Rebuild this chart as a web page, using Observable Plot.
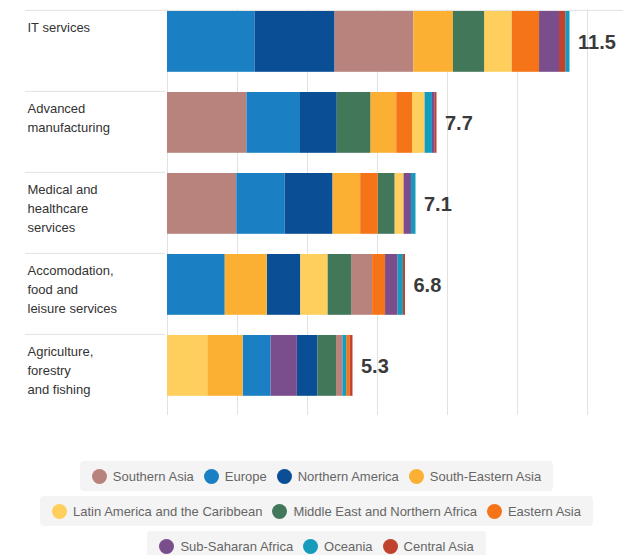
<!DOCTYPE html>
<html>
<head>
<meta charset="utf-8">
<script src="https://cdn.jsdelivr.net/npm/d3@7"></script>
<script src="https://cdn.jsdelivr.net/npm/@observablehq/plot@0.6"></script>
<style>
  html, body { margin: 0; padding: 0; background: #fff; }
  body { width: 633px; font-family: "Liberation Sans", Arial, Helvetica, sans-serif; }
  #legend { margin-top: 31px; display: flex; flex-direction: column; align-items: center; }
  .row { display: flex; align-items: center; height: 30px; margin-bottom: 5px; padding: 0 7px; background: #f4f4f4; border-radius: 4px; }
  .item { display: flex; align-items: center; margin: 0 5px; font-size: 13px; color: #666; white-space: nowrap; }
  .sw { width: 15px; height: 15px; border-radius: 50%; margin-right: 6px; }
</style>
</head>
<body>
<div id="chart"></div>
<div id="legend"></div>
<script>
const sectors = ["IT services", "Advanced manufacturing", "Medical and healthcare services", "Accomodation, food and leisure services", "Agriculture, forestry and fishing"];
const sectorLabels = ["IT services", "Advanced\nmanufacturing", "Medical and\nhealthcare\nservices", "Accomodation,\nfood and\nleisure services", "Agriculture,\nforestry\nand fishing"];
const totals = [11.5, 7.7, 7.1, 6.8, 5.3];
const gridTicks = [0, 2, 4, 6, 8, 10, 12];

const regions = ["Southern Asia", "Europe", "Northern America", "South-Eastern Asia", "Latin America and the Caribbean", "Middle East and Northern Africa", "Eastern Asia", "Sub-Saharan Africa", "Oceania", "Central Asia"];
const regionColors = ["#b8837c", "#1a80c3", "#0a4e96", "#fbb033", "#fecf5c", "#42775a", "#f57417", "#7a4e8c", "#179bbd", "#c0432e"];

// values per region, in the order of sectors
const southernAsia    = [2.26, 2.27, 1.98, 0.60, 0.18];
const europe          = [2.50, 1.53, 1.38, 1.65, 0.80];
const northernAmerica = [2.28, 1.05, 1.37, 0.96, 0.59];
const southEastAsia   = [1.13, 0.74, 0.79, 1.20, 1.01];
const latinAmerica    = [0.79, 0.36, 0.26, 0.78, 1.15];
const mena            = [0.89, 0.96, 0.48, 0.67, 0.53];
const easternAsia     = [0.78, 0.45, 0.50, 0.37, 0.10];
const subSaharan      = [0.57, 0.08, 0.21, 0.36, 0.75];
const oceania         = [0.12, 0.21, 0.13, 0.15, 0.11];
const centralAsia     = [0.18, 0.05, 0.00, 0.06, 0.08];

const series = [southernAsia, europe, northernAmerica, southEastAsia, latinAmerica, mena, easternAsia, subSaharan, oceania, centralAsia];

const data = regions.flatMap((region, j) =>
  sectors.map((sector, i) => ({sector, region, value: series[j][i]}))
);

const W = 633, H = 430, mt = 9, mb = 15, ml = 167, mr = 46;
const step = (H - mt - mb) / sectors.length;
const barH = 61;

const chart = Plot.plot({
  width: W,
  height: H,
  marginTop: mt,
  marginBottom: mb,
  marginLeft: ml,
  marginRight: mr,
  style: {background: "#fff", fontFamily: "'Liberation Sans', Arial, Helvetica, sans-serif"},
  x: {domain: [0, 12], axis: null},
  y: {domain: sectors, axis: null, padding: 0},
  color: {domain: regions, range: regionColors},
  marks: [
    Plot.ruleX(gridTicks, {stroke: "#e2e2e2", strokeWidth: 1}),
    Plot.ruleY([sectors[0]], {dy: -step / 2, insetLeft: -(ml - 25), insetRight: -36, stroke: "#e2e2e2"}),
    Plot.ruleY(sectors.slice(1), {dy: -step / 2, insetLeft: -(ml - 25), insetRight: (W - mr) - 165, stroke: "#e2e2e2"}),
    Plot.barX(data, Plot.stackX({
      y: "sector", x: "value", fill: "region",
      order: "value", reverse: true,
      insetTop: 1, insetBottom: step - 1 - barH
    })),
    Plot.text(sectors, {
      y: d => d, text: (d, i) => sectorLabels[i],
      frameAnchor: "left", dx: -(ml - 27), textAnchor: "start",
      lineAnchor: "top", dy: -32, fontSize: 13, lineHeight: 1.45, fill: "#333"
    }),
    Plot.text(sectors, {
      x: (d, i) => totals[i], y: d => d, text: (d, i) => totals[i].toFixed(1),
      dx: 8, dy: -8.5, textAnchor: "start", fontSize: 20, fontWeight: 700, fill: "#3a3a3a"
    })
  ]
});
document.getElementById("chart").appendChild(chart);

const rows = [regions.slice(0, 4), regions.slice(4, 7), regions.slice(7)];
const legend = document.getElementById("legend");
rows.forEach(r => {
  const row = document.createElement("div");
  row.className = "row";
  r.forEach(name => {
    const item = document.createElement("div");
    item.className = "item";
    const sw = document.createElement("span");
    sw.className = "sw";
    sw.style.background = regionColors[regions.indexOf(name)];
    item.appendChild(sw);
    item.appendChild(document.createTextNode(name));
    row.appendChild(item);
  });
  legend.appendChild(row);
});
</script>
</body>
</html>
